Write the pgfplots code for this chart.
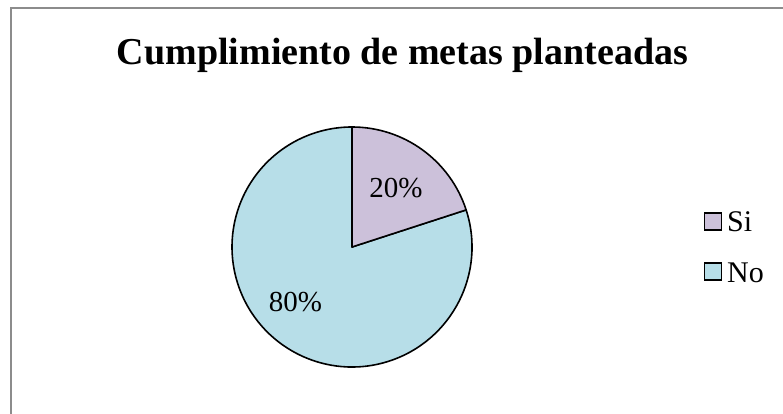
\documentclass[border=0pt]{standalone}
\usepackage{pgfplots}
\usepackage{pgfplotstable}
\pgfplotsset{compat=1.18}
\usepackage{fontspec}
\setmainfont{Liberation Serif}
\definecolor{siColor}{HTML}{CCC1DA}
\definecolor{noColor}{HTML}{B7DEE8}
\definecolor{frameGray}{HTML}{8C8C8C}
\pgfplotstableread{
label value
Si 20
No 80
}\piedata
\pgfplotstablegetelem{0}{value}\of\piedata \let\vSi\pgfplotsretval
\pgfplotstablegetelem{1}{value}\of\piedata \let\vNo\pgfplotsretval
\pgfmathsetmacro{\total}{\vSi+\vNo}
\pgfmathsetmacro{\aStart}{90}
\pgfmathsetmacro{\aMid}{90-360*(\vSi/\total)}
\pgfmathsetmacro{\aEnd}{\aMid-360*(\vNo/\total)}
\begin{document}
\begin{tikzpicture}
\begin{axis}[
  width=783pt, height=414pt, scale only axis,
  xmin=0, xmax=783, ymin=0, ymax=414,
  hide axis, clip=false,
]
% frame (left and top edges visible)
\draw[frameGray, line width=2pt] (axis cs:11,0) -- (axis cs:11,406) -- (axis cs:783,406);
% title
\node[anchor=base, font=\fontsize{38}{44}\selectfont\bfseries] at (axis cs:402.5,349) {Cumplimiento de metas planteadas};
% pie
\filldraw[fill=noColor, draw=black, line width=1.6pt, line join=round]
  (axis cs:352,167) -- ++(\aMid:120pt) arc[start angle=\aMid, end angle=\aEnd, radius=120pt] -- cycle;
\filldraw[fill=siColor, draw=black, line width=1.6pt, line join=round]
  (axis cs:352,167) -- ++(\aStart:120pt) arc[start angle=\aStart, end angle=\aMid, radius=120pt] -- cycle;
% labels
\node[anchor=base, font=\fontsize{29}{34}\selectfont] at (axis cs:396,216) {\vSi\%};
\node[anchor=base, font=\fontsize{29}{34}\selectfont] at (axis cs:295.5,102) {\vNo\%};
% legend
\filldraw[fill=siColor, draw=black, line width=1.5pt] (axis cs:704.5,184) rectangle (axis cs:721.5,201);
\filldraw[fill=noColor, draw=black, line width=1.5pt] (axis cs:704.5,134) rectangle (axis cs:721.5,151);
\node[anchor=base west, inner sep=0pt, font=\fontsize{30}{34}\selectfont] at (axis cs:727,182) {Si};
\node[anchor=base west, inner sep=0pt, font=\fontsize{30}{34}\selectfont] at (axis cs:727,131) {No};
\coordinate (bl) at (axis cs:0,0);
\coordinate (tr) at (axis cs:783,414);
\end{axis}
\pgfresetboundingbox
\path[use as bounding box] (bl) rectangle (tr);
\end{tikzpicture}
\end{document}
